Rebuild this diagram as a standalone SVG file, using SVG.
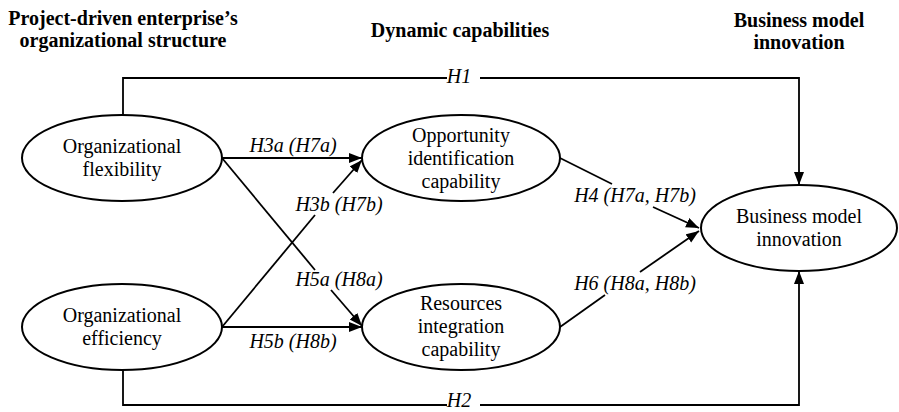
<svg xmlns="http://www.w3.org/2000/svg" width="899" height="412" viewBox="0 0 899 412">
<defs>
<style>
.node ellipse{fill:#fff;stroke:#000;stroke-width:2}
.nt{font-family:"Liberation Serif","Times New Roman",serif;font-size:20px;text-anchor:middle;fill:#000}
.hd{font-family:"Liberation Serif","Times New Roman",serif;font-size:20px;font-weight:bold;text-anchor:middle;fill:#000}
.lb{font-family:"Liberation Serif","Times New Roman",serif;font-size:20px;font-style:italic;text-anchor:middle;fill:#000}
.ln{fill:none;stroke:#000;stroke-width:1.8}
</style>
<marker id="ah" markerUnits="userSpaceOnUse" markerWidth="14" markerHeight="11" refX="13" refY="5" orient="auto">
<path d="M0,0 L13,5 L0,10 z" fill="#000"/>
</marker>
</defs>
<rect width="899" height="412" fill="#fff"/>
<g id="headers">
<text class="hd" x="123" y="25">Project-driven enterprise’s</text>
<text class="hd" x="123" y="47">organizational structure</text>
<text class="hd" x="460" y="37">Dynamic capabilities</text>
<text class="hd" x="799" y="27">Business model</text>
<text class="hd" x="799" y="49">innovation</text>
</g>
<g id="connectors">
<polyline class="ln" points="123,115 123,78 447,78"/>
<polyline class="ln" points="480,78 799,78 799,185" marker-end="url(#ah)"/>
<polyline class="ln" points="123,370 123,405 447,405"/>
<polyline class="ln" points="480,405 799,405 799,271" marker-end="url(#ah)"/>
<line class="ln" x1="222" y1="158" x2="362" y2="158" marker-end="url(#ah)"/>
<line class="ln" x1="222" y1="327" x2="315" y2="215"/>
<line class="ln" x1="333" y1="193" x2="362" y2="160" marker-end="url(#ah)"/>
<line class="ln" x1="222" y1="158" x2="315" y2="270"/>
<line class="ln" x1="331" y1="290" x2="362" y2="326" marker-end="url(#ah)"/>
<line class="ln" x1="222" y1="327" x2="362" y2="327" marker-end="url(#ah)"/>
<line class="ln" x1="560" y1="158" x2="612" y2="184"/>
<line class="ln" x1="653" y1="207" x2="699" y2="228" marker-end="url(#ah)"/>
<line class="ln" x1="560" y1="327" x2="605" y2="295"/>
<line class="ln" x1="640" y1="272" x2="699" y2="231" marker-end="url(#ah)"/>
<text class="lb" x="459" y="83">H1</text>
<text class="lb" x="459" y="407">H2</text>
<text class="lb" x="293" y="152">H3a (H7a)</text>
<text class="lb" x="339" y="211">H3b (H7b)</text>
<text class="lb" x="339" y="286">H5a (H8a)</text>
<text class="lb" x="293" y="348">H5b (H8b)</text>
<text class="lb" x="635" y="202">H4 (H7a, H7b)</text>
<text class="lb" x="635" y="290">H6 (H8a, H8b)</text>
</g>
<g id="flexibility" class="node">
<ellipse cx="122" cy="158" rx="100" ry="43"/>
<text class="nt" x="122" y="153">Organizational</text>
<text class="nt" x="122" y="176">flexibility</text>
</g>
<g id="efficiency" class="node">
<ellipse cx="122" cy="327" rx="100" ry="43"/>
<text class="nt" x="122" y="322">Organizational</text>
<text class="nt" x="122" y="345">efficiency</text>
</g>
<g id="opportunity" class="node">
<ellipse cx="461" cy="158" rx="99" ry="43"/>
<text class="nt" x="461" y="142">Opportunity</text>
<text class="nt" x="461" y="165">identification</text>
<text class="nt" x="461" y="188">capability</text>
</g>
<g id="resources" class="node">
<ellipse cx="461" cy="327" rx="99" ry="43"/>
<text class="nt" x="461" y="310">Resources</text>
<text class="nt" x="461" y="333">integration</text>
<text class="nt" x="461" y="356">capability</text>
</g>
<g id="bmi" class="node">
<ellipse cx="799" cy="228" rx="98" ry="43"/>
<text class="nt" x="799" y="223">Business model</text>
<text class="nt" x="799" y="246">innovation</text>
</g>
</svg>
